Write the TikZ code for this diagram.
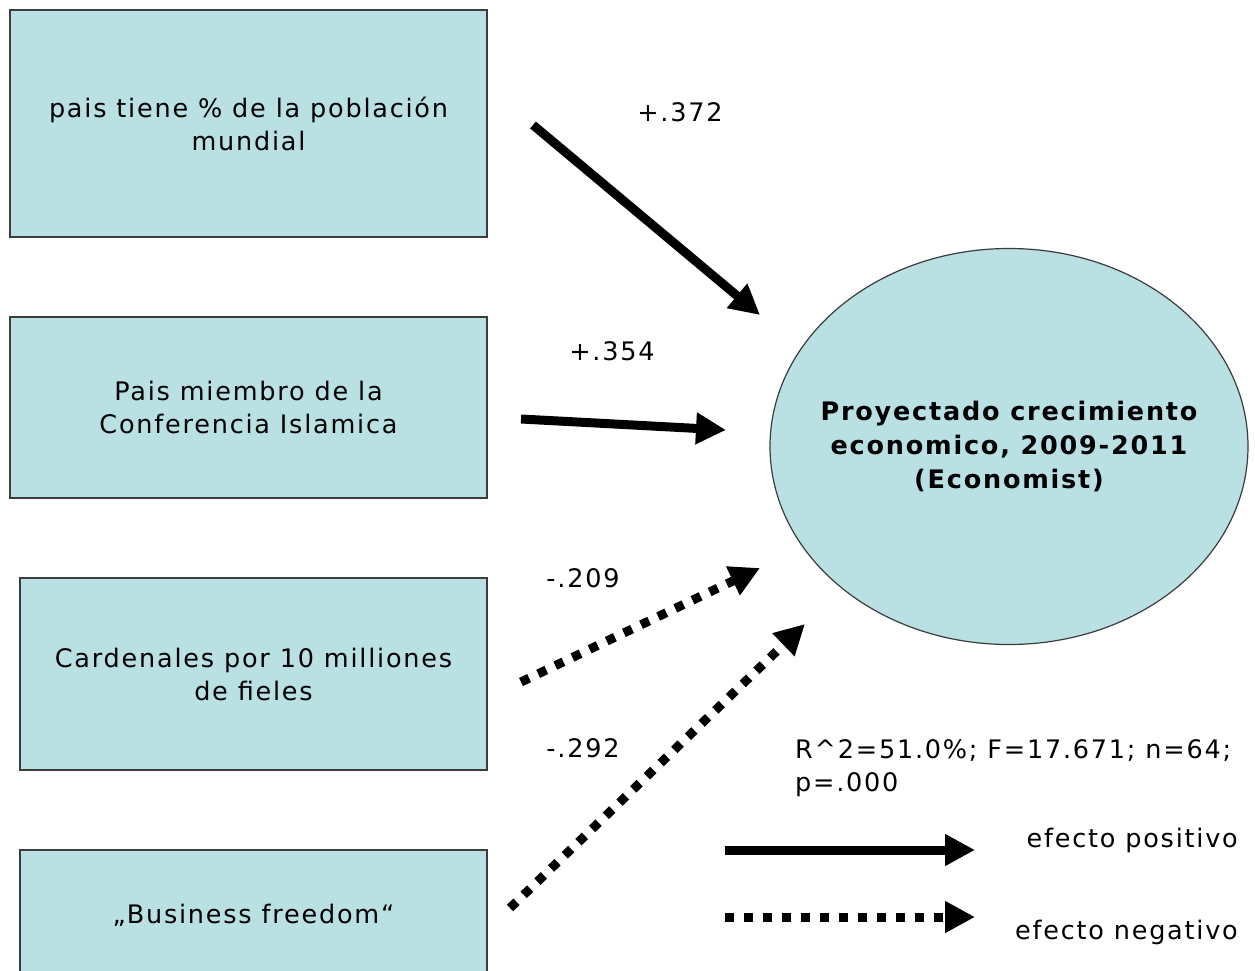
\documentclass[tikz,border=0pt]{standalone}
\usepackage{fontspec}
\setmainfont[LetterSpace=7]{DejaVu Sans}
\usetikzlibrary{arrows.meta,shapes.geometric}
\definecolor{boxfill}{RGB}{185,224,227}
\definecolor{boxline}{RGB}{60,60,60}
\begin{document}
\begin{tikzpicture}[x=1pt,y=-1pt,
  txt/.style={font=\fontsize{25.5}{33}\selectfont, inner sep=0pt},
  vbox/.style={draw=boxline, line width=1.2pt, fill=boxfill, align=center, txt},
  posarrow/.style={line width=9pt, -{Triangle[length=30pt,width=30pt]}},
  negarrow/.style={line width=9pt, dash pattern=on 9pt off 10pt, -{Triangle[length=30pt,width=30pt]}},
  lbl/.style={txt}]
\useasboundingbox (0,0) rectangle (1255,971);
\fill[white] (0,0) rectangle (1255,971);
\begin{scope}
\clip (0,0) rectangle (1255,971);
\node[vbox, minimum width=477pt, minimum height=227pt] (b1) at (248.5,123.5) {pais tiene \% de la población\\mundial};
\node[vbox, minimum width=477pt, minimum height=181pt] (b2) at (248.5,407.5) {Pais miembro de la\\Conferencia Islamica};
\node[vbox, minimum width=467pt, minimum height=192pt] (b3) at (253.5,674) {Cardenales por 10 milliones\\de fieles};
\node[vbox, minimum width=467pt, minimum height=130pt] (b4) at (253.5,915) {„Business freedom“};
\node[draw=boxline, line width=1.2pt, fill=boxfill, ellipse, minimum width=478pt, minimum height=396pt, inner sep=0pt] (e) at (1009,446.5) {};
\node[align=center, font=\fontsize{25.5}{34}\selectfont\bfseries, inner sep=0pt] (et) at (e.center) {Proyectado crecimiento\\economico, 2009-2011\\(Economist)};
\end{scope}
% arrow endpoints
\coordinate (s1) at (533,125); \coordinate (t1) at (760,315);
\coordinate (s2) at (521,419); \coordinate (t2) at (726,430);
\coordinate (s3) at (521,682); \coordinate (t3) at (760,568);
\coordinate (s4) at (510,908); \coordinate (t4) at (805,624);
\draw[posarrow] (s1) -- (t1);
\draw[posarrow] (s2) -- (t2);
\draw[negarrow] (s3) -- (t3);
\draw[negarrow] (s4) -- (t4);
\node[lbl] (l1) at (680,112) {+.372};
\node[lbl] (l2) at (612,351) {+.354};
\node[lbl] (l3) at (583,578) {-.209};
\node[lbl] (l4) at (583,748) {-.292};
\node[txt, anchor=north west, align=left] (stats) at (795,739) {R\textasciicircum2=51.0\%; F=17.671; n=64;\\p=.000};
% legend
\coordinate (ps) at (725,850); \coordinate (pe) at (975,850);
\coordinate (ns) at (725,917); \coordinate (ne) at (975,917);
\draw[posarrow] (ps) -- (pe);
\draw[negarrow] (ns) -- (ne);
\node[txt, anchor=east] (lp) at (1238,840) {efecto positivo};
\node[txt, anchor=east] (ln) at (1238,932) {efecto negativo};
\end{tikzpicture}
\end{document}
